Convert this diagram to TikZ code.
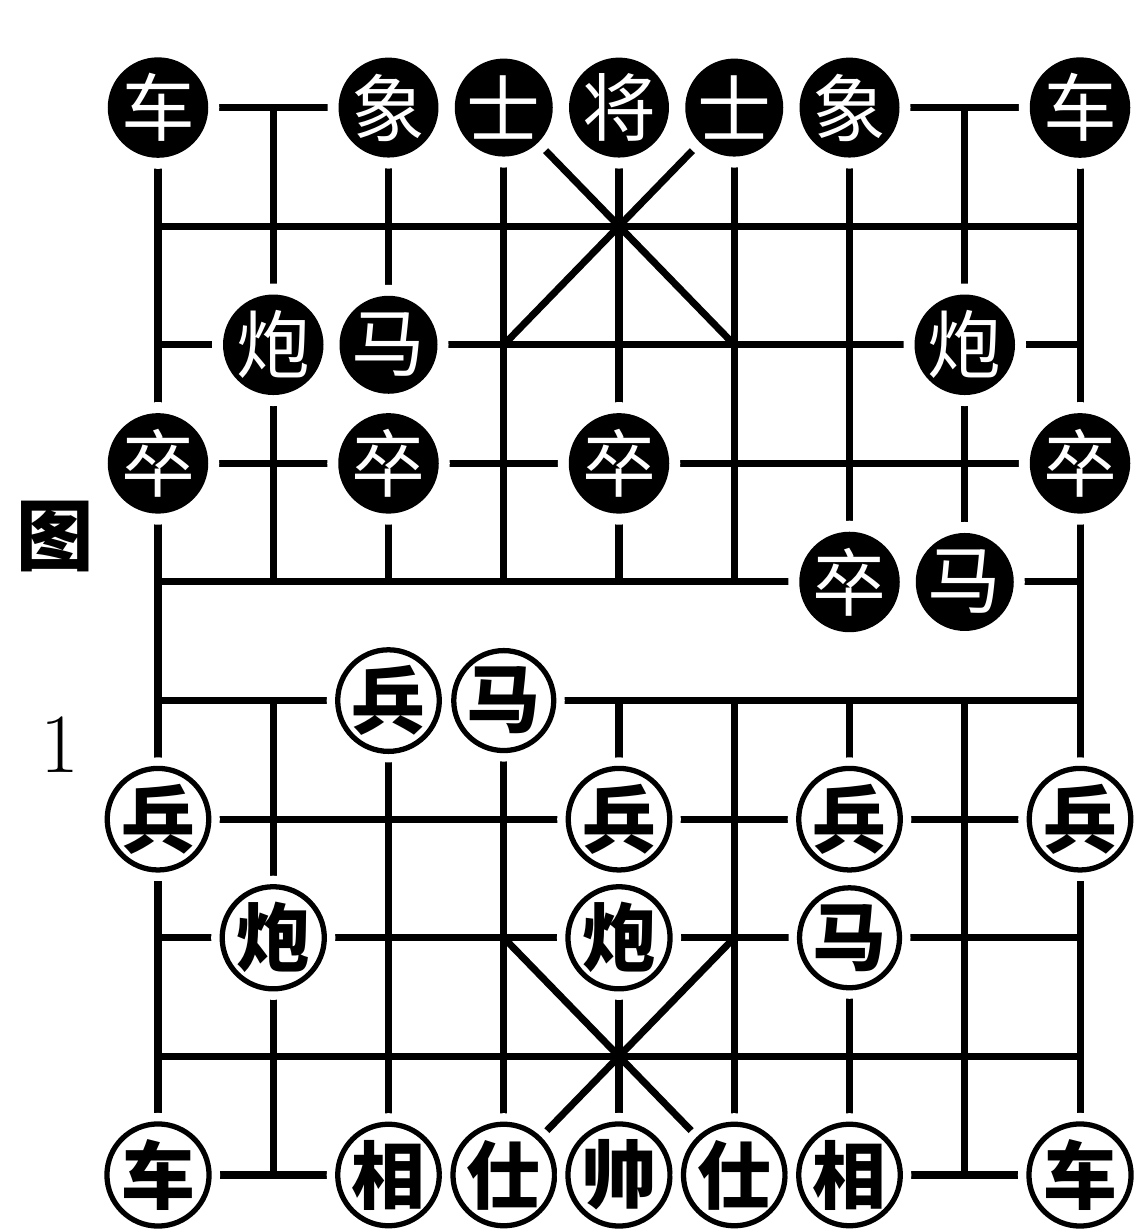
\documentclass[tikz,border=0pt]{standalone}
\usepackage{fontspec}
\newfontfamily\cjk{Noto Sans CJK SC}
\begin{document}
\begin{tikzpicture}[x=1.1525cm,y=1.186cm]
	\tikzset{
		grid/.style={line width=2pt},
		pc/.style={circle, minimum size=0.98cm, inner sep=0pt, preaction={draw=white, line width=0.22cm}},
		bpc/.style={pc, fill=black, text=white, font=\cjk\fontsize{21}{21}\selectfont},
		rpc/.style={pc, draw=black, line width=1.5pt, fill=white, font=\cjk\bfseries\fontsize{21}{21}\selectfont}
	}
	\useasboundingbox (-1.58cm,-0.56cm) rectangle (9.88cm,11.75cm);
	% board
	\foreach \r in {0,...,9}
		\draw[grid] (0,\r) -- (8,\r);
	\draw[grid] (0,0) -- (0,9);
	\draw[grid] (8,0) -- (8,9);
	\foreach \c in {1,...,7} {
		\draw[grid] (\c,0) -- (\c,4);
		\draw[grid] (\c,5) -- (\c,9);
	}
	\draw[grid] (3,0) -- (5,2);
	\draw[grid] (5,0) -- (3,2);
	\draw[grid] (3,7) -- (5,9);
	\draw[grid] (5,7) -- (3,9);
	% black side
	\node[bpc] (bju1)   at (0,9) {车};
	\node[bpc] (bxy1)   at (2,9) {象};
	\node[bpc] (bsh1)   at (3,9) {士};
	\node[bpc] (bjiang) at (4,9) {将};
	\node[bpc] (bsh2)   at (5,9) {士};
	\node[bpc] (bxy2)   at (6,9) {象};
	\node[bpc] (bju2)   at (8,9) {车};
	\node[bpc] (bpao1)  at (1,7) {炮};
	\node[bpc] (bma1)   at (2,7) {马};
	\node[bpc] (bpao2)  at (7,7) {炮};
	\node[bpc] (bzu1)   at (0,6) {卒};
	\node[bpc] (bzu2)   at (2,6) {卒};
	\node[bpc] (bzu3)   at (4,6) {卒};
	\node[bpc] (bzu4)   at (8,6) {卒};
	\node[bpc] (bzu5)   at (6,5) {卒};
	\node[bpc] (bma2)   at (7,5) {马};
	% red side
	\node[rpc] (rbing1) at (2,4) {兵};
	\node[rpc] (rma1)   at (3,4) {马};
	\node[rpc] (rbing2) at (0,3) {兵};
	\node[rpc] (rbing3) at (4,3) {兵};
	\node[rpc] (rbing4) at (6,3) {兵};
	\node[rpc] (rbing5) at (8,3) {兵};
	\node[rpc] (rpao1)  at (1,2) {炮};
	\node[rpc] (rpao2)  at (4,2) {炮};
	\node[rpc] (rma2)   at (6,2) {马};
	\node[rpc] (rju1)   at (0,0) {车};
	\node[rpc] (rxy1)   at (2,0) {相};
	\node[rpc] (rsh1)   at (3,0) {仕};
	\node[rpc] (rshuai) at (4,0) {帅};
	\node[rpc] (rsh2)   at (5,0) {仕};
	\node[rpc] (rxy2)   at (6,0) {相};
	\node[rpc] (rju2)   at (8,0) {车};
	% caption
	\node[font=\cjk\bfseries\fontsize{22}{22}\selectfont] (tu) at (-1.03cm,6.38cm) {图};
	\node[font=\fontsize{24}{24}\selectfont] (num) at (-0.98cm,4.30cm) {1};
\end{tikzpicture}
\end{document}
